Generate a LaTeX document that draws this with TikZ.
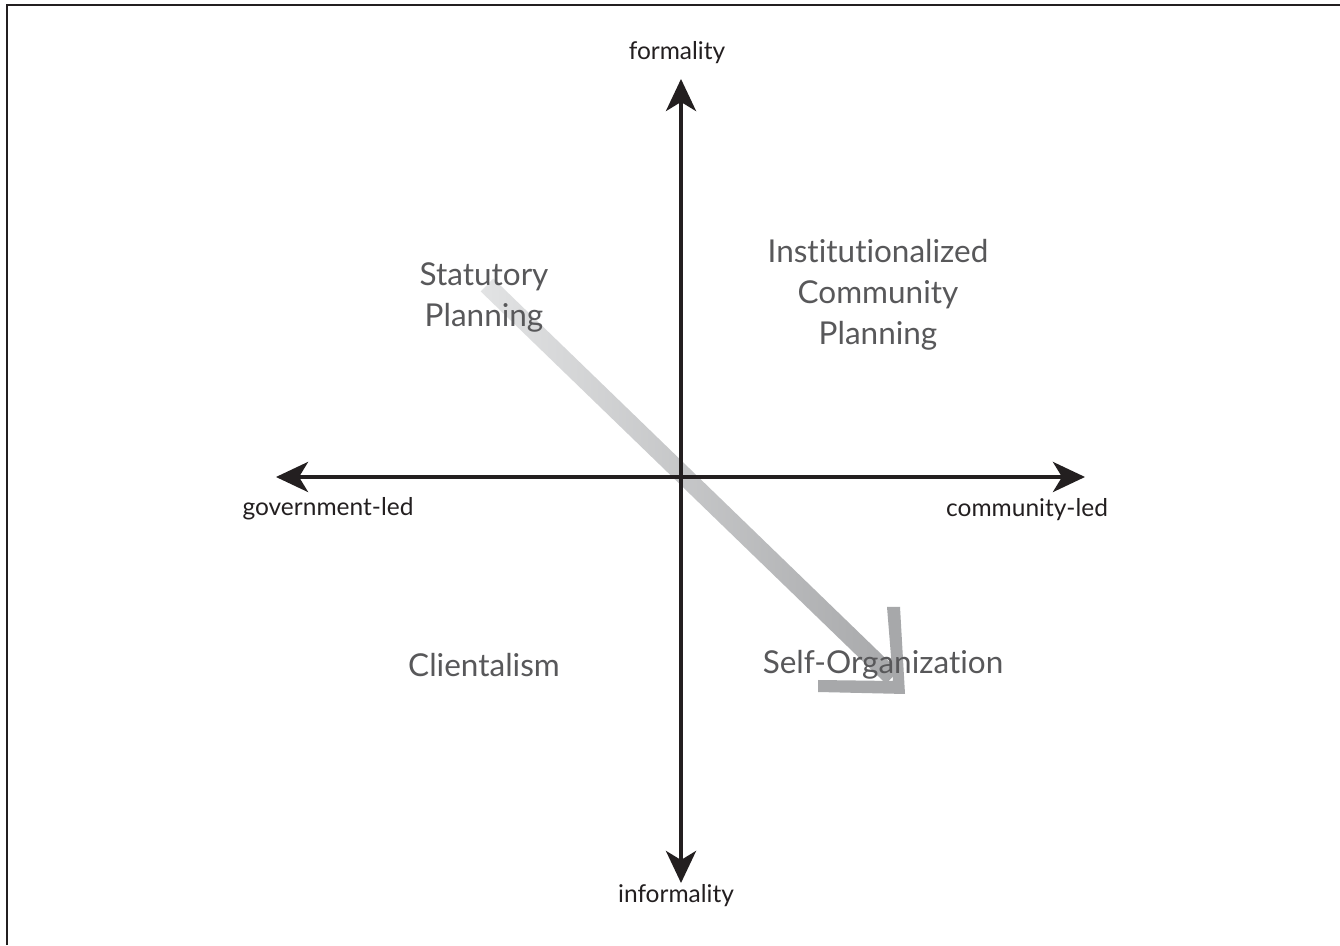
\documentclass[tikz,border=0pt]{standalone}
\usepackage{fontspec}
\setmainfont{Lato}[Ligatures={NoCommon}]
\usetikzlibrary{arrows.meta}
\definecolor{axisc}{HTML}{231F20}
\definecolor{quadc}{HTML}{58585A}
\definecolor{bandlight}{HTML}{E2E3E4}
\definecolor{banddark}{HTML}{A7A8AA}
\tikzset{
  axis/.style={line width=4pt, draw=axisc, -{Stealth[length=32pt,width=30pt,inset=9pt]}},
  axislabel/.style={font=\fontsize{24.5}{28}\selectfont, text=axisc, inner sep=0pt},
  quad/.style={font=\fontsize{31.5}{41}\selectfont, text=quadc, align=center, inner sep=0pt},
}
\begin{document}
\begin{tikzpicture}[x=1pt,y=1pt]
\useasboundingbox (0,0) rectangle (1340,945);
\fill[white] (0,0) rectangle (1340,945);
% frame (top and left visible)
\draw[line width=2pt, draw=axisc] (7,0) -- (7,940) -- (1340,940);
% gradient band
\begin{scope}[shift={(487,660)},rotate=-44.07]
  \shade[left color=bandlight,right color=banddark] (0,-9) rectangle (564,9);
\end{scope}
% chevron head
\fill[banddark] (887,338) -- (900,338) -- (905,251) -- (818,253) -- (818,265) -- (893,264) -- cycle;
% axes
\coordinate (O) at (681,468);
\coordinate (top) at (681,866);
\coordinate (bot) at (681,62);
\coordinate (left) at (276,468);
\coordinate (right) at (1085,468);
\draw[axis] (O) -- (top);
\draw[axis] (O) -- (bot);
\draw[axis] (O) -- (left);
\draw[axis] (O) -- (right);
% axis labels
\node[axislabel] (formality) at (677,892) {formality};
\node[axislabel] (informality) at (676,49) {informality};
\node[axislabel] (gov) at (328,436) {government-led};
\node[axislabel] (com) at (1027,435) {community-led};
% quadrant labels
\node[quad] (stat) at (484,648) {Statutory\\Planning};
\node[quad] (inst) at (878,650) {Institutionalized\\Community\\Planning};
\node[quad] (cli) at (484,280) {Clientalism};
\node[quad] (self) at (883,280) {Self-Organization};
\end{tikzpicture}
\end{document}
